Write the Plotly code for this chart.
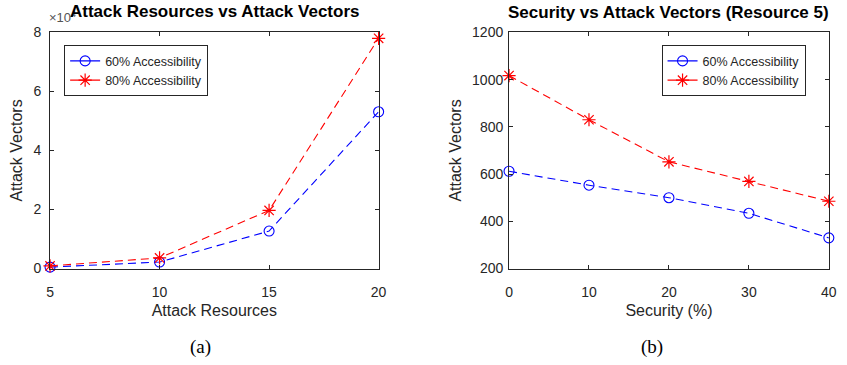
import plotly.graph_objects as go

# Panel (a): attack resources vs attack vectors
resources = [5, 10, 15, 20]
vectors_a_60 = [500, 2200, 12700, 53100]
vectors_a_80 = [900, 3600, 19700, 78000]
ticks_a_y = [0, 20000, 40000, 60000, 80000]
ticktext_a_y = ["0", "2", "4", "6", "8"]

# Panel (b): security level vs attack vectors (resource 5)
security = [0, 10, 20, 30, 40]
vectors_b_60 = [612, 553, 500, 434, 330]
vectors_b_80 = [1017, 830, 652, 569, 485]

series_names = ["60% Accessibility", "80% Accessibility"]

BLUE = "#0000ff"
RED = "#ff0000"
AXC = "#262626"
FONT = "Liberation Sans, Arial, sans-serif"

fig = go.Figure()

markers = [
    dict(symbol="circle-open", size=10, color=BLUE, line=dict(width=1.1, color=BLUE)),
    dict(symbol="asterisk-open", size=11, color=RED, line=dict(width=1.2, color=RED)),
]
colors = [BLUE, RED]

def add_pair(x, ys, xa, ya, legend):
    for y, name, col, mk in zip(ys, series_names, colors, markers):
        # dashed data line
        fig.add_trace(go.Scatter(
            x=x, y=y, mode="lines+markers", name=name, showlegend=False,
            line=dict(color=col, width=1.1, dash="8px,5px"), marker=mk,
            xaxis=xa, yaxis=ya, cliponaxis=False))
        # legend key with a solid line sample
        fig.add_trace(go.Scatter(
            x=[None], y=[None], mode="lines+markers", name=name, showlegend=True,
            line=dict(color=col, width=1.1), marker=mk,
            xaxis=xa, yaxis=ya, legend=legend))

add_pair(resources, [vectors_a_60, vectors_a_80], "x", "y", "legend")
add_pair(security, [vectors_b_60, vectors_b_80], "x2", "y2", "legend2")

W, H = 847, 365
def fx(px):
    return px / W
def fy(py):
    return 1 - py / H

axis_common = dict(
    showline=True, linecolor=AXC, linewidth=1, mirror="ticks",
    ticks="inside", ticklen=4, tickcolor=AXC, tickwidth=1,
    showgrid=False, zeroline=False,
    tickfont=dict(family=FONT, size=14, color=AXC),
)
title_font = dict(family=FONT, size=16, color=AXC)

legend_common = dict(
    bgcolor="white", bordercolor=AXC, borderwidth=1,
    font=dict(family=FONT, size=12.5, color=AXC),
    xanchor="left", yanchor="top", itemwidth=30, tracegroupgap=0,
)

fig.update_layout(
    width=W, height=H,
    margin=dict(l=0, r=0, t=0, b=0),
    paper_bgcolor="white", plot_bgcolor="white",
    showlegend=True,
    xaxis=dict(domain=[fx(46.7), fx(380)], range=[5, 20], tickvals=[5, 10, 15, 20],
               ticklabelstandoff=11,
               title=dict(text="Attack Resources", font=title_font, standoff=5),
               anchor="y", **axis_common),
    yaxis=dict(domain=[fy(272.5), fy(25.5)], range=[0, 80000], tickvals=ticks_a_y, ticktext=ticktext_a_y,
               ticklabelstandoff=5,
               title=dict(text="Attack Vectors", font=title_font, standoff=6),
               anchor="x", **axis_common),
    xaxis2=dict(domain=[fx(512.3), fx(836.7)], range=[0, 40], tickvals=[0, 10, 20, 30, 40],
                ticklabelstandoff=11,
                title=dict(text="Security (%)", font=title_font, standoff=5),
                anchor="y2", **axis_common),
    yaxis2=dict(domain=[fy(272.5), fy(25.5)], range=[200, 1200], tickvals=[200, 400, 600, 800, 1000, 1200],
                ticklabelstandoff=2,
                title=dict(text="Attack Vectors", font=title_font, standoff=6),
                anchor="x2", **axis_common),
    legend=dict(x=fx(61), y=fy(39), **legend_common),
    legend2=dict(x=fx(667), y=fy(39), **legend_common),
)

# Exponent label for panel (a) y-axis
fig.add_annotation(x=fx(44), y=fy(9), xref="paper", yref="paper", xanchor="left", yanchor="middle",
                   text="×10<sup>4</sup>", showarrow=False,
                   font=dict(family=FONT, size=13, color="#555555"))

# Panel titles
fig.add_annotation(x=fx(214), y=fy(4), xref="paper", yref="paper", xanchor="center", yanchor="middle",
                   text="<b>Attack Resources vs Attack Vectors</b>", showarrow=False,
                   font=dict(family=FONT, size=17, color="black"))
fig.add_annotation(x=fx(674), y=fy(5), xref="paper", yref="paper", xanchor="center", yanchor="middle",
                   text="<b>Security vs Attack Vectors (Resource 5)</b>", showarrow=False,
                   font=dict(family=FONT, size=17, color="black"))

# Sub-figure captions
for cx, lab in [(199, "(a)"), (657, "(b)")]:
    fig.add_annotation(x=fx(cx), y=fy(355), xref="paper", yref="paper", xanchor="center", yanchor="middle",
                       text=lab, showarrow=False,
                       font=dict(family="Liberation Serif, DejaVu Serif, serif", size=19, color="black"))

fig.write_html("out.html")
